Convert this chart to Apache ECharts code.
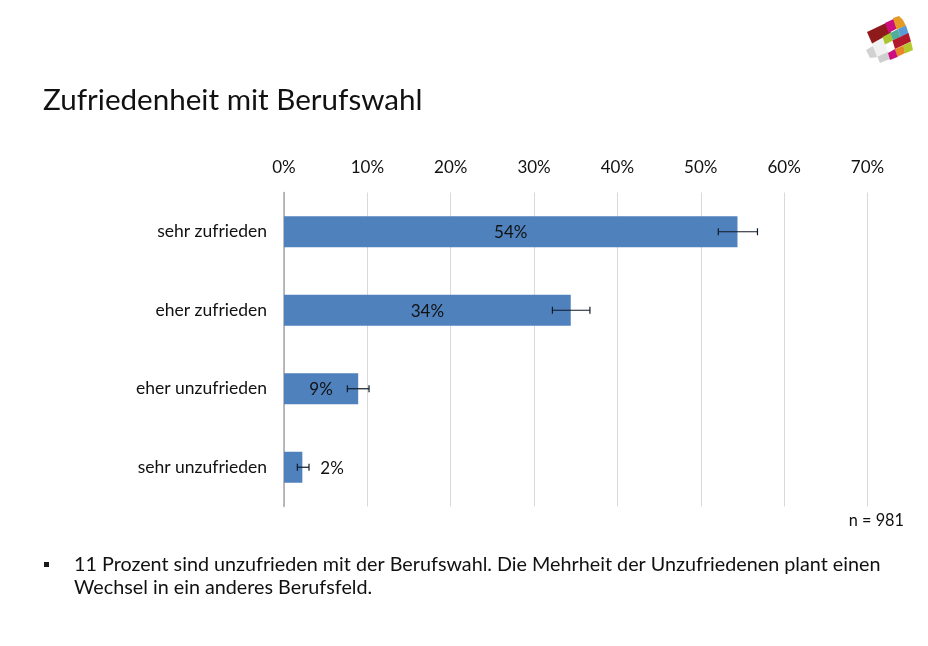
<!DOCTYPE html>
<html>
<head>
<meta charset="utf-8">
<title>Zufriedenheit mit Berufswahl</title>
<script src="https://cdn.jsdelivr.net/npm/echarts@6/dist/echarts.min.js"></script>
<style>
  html, body { margin: 0; padding: 0; background: #fff; }
  #main { width: 928px; height: 646px; }
</style>
</head>
<body>
<div id="main"></div>
<script>
// Werte
const categories = ["sehr zufrieden", "eher zufrieden", "eher unzufrieden", "sehr unzufrieden"];
const shareValues = [54.4, 34.4, 8.9, 2.2];
const errorLow = [52.1, 32.2, 7.6, 1.6];
const errorHigh = [56.8, 36.7, 10.2, 3.0];

const fontName = "Lato, 'Open Sans', sans-serif";
const textColor = "#111111";

// Logo oben rechts, [Farbe, Punkte]
const logoParts = [
  ["#d2d2d2", [[866, 50], [873, 46], [878, 57], [870, 58]]],
  ["#cfcfcf", [[877, 56], [888, 51], [890, 59], [880, 63]]],
  ["#f1f1f1", [[872, 43], [883, 37], [888, 52], [877, 57]]],
  ["#8e1a1c", [[867, 32], [887, 22.5], [891, 33], [872, 43.5]]],
  ["#cc0e7e", [[885, 23], [893.5, 19], [897, 28.5], [888.5, 33]]],
  ["#e59a25", [[893, 18], [899, 16], [903, 20], [906, 26], [896.5, 29.5]]],
  ["#a9c52f", [[882.5, 37], [891, 32.5], [893, 40.5], [885, 44.5]]],
  ["#4fae9c", [[890.5, 33], [898, 29], [900.5, 37], [893, 40.5]]],
  ["#5b9bd5", [[898, 29], [906, 25.5], [908.5, 33.5], [900.5, 37]]],
  ["#b2182b", [[892.5, 40.5], [908.5, 33], [911, 41.5], [895, 49]]],
  ["#e8872a", [[895, 49], [903.5, 45.5], [905, 53], [897, 57]]],
  ["#b4c82d", [[903, 45.5], [911, 41.5], [913, 50], [905, 53.5]]],
  ["#cc0e7e", [[888, 53], [895, 49], [897.5, 57], [890, 60]]]
];

const chart = echarts.init(document.getElementById("main"));

const logoGraphics = logoParts.map(function (part) {
  return {
    type: "polygon",
    shape: { points: part[1] },
    style: { fill: part[0] }
  };
});

chart.setOption({
  backgroundColor: "#fff",
  animation: false,
  title: {
    text: "Zufriedenheit mit Berufswahl",
    left: 43,
    top: 85,
    padding: 0,
    textStyle: { fontFamily: fontName, fontSize: 29.6, fontWeight: "normal", color: textColor }
  },
  grid: { left: 284, top: 192.5, width: 583.5, height: 314, containLabel: false },
  xAxis: {
    type: "value",
    position: "top",
    min: 0,
    max: 70,
    interval: 10,
    axisLine: { show: false },
    axisTick: { show: false },
    axisLabel: {
      formatter: "{value}%",
      margin: 16,
      fontFamily: fontName,
      fontSize: 17,
      color: textColor
    },
    splitLine: { lineStyle: { color: "#d9d9d9", width: 1 } }
  },
  yAxis: {
    type: "category",
    inverse: true,
    data: categories,
    axisLine: { lineStyle: { color: "#a6a6a6", width: 1.5 } },
    axisTick: { show: false },
    axisLabel: {
      margin: 17,
      padding: [2, 0, 0, 0],
      fontFamily: fontName,
      fontSize: 17.5,
      color: textColor
    }
  },
  series: [
    {
      type: "bar",
      barWidth: 31,
      itemStyle: { color: "#4f81bd" },
      data: shareValues.map(function (v) {
        return {
          value: v,
          label: {
            show: true,
            position: v < 5 ? "right" : "inside",
            distance: 18,
            offset: [0, 1],
            formatter: Math.round(v) + "%",
            fontFamily: fontName,
            fontSize: 17,
            color: textColor
          }
        };
      }),
      z: 2
    },
    {
      type: "custom",
      data: categories.map(function (c, i) {
        return [errorLow[i], errorHigh[i], i];
      }),
      encode: { x: [0, 1], y: 2 },
      z: 5,
      silent: true,
      renderItem: function (params, api) {
        const low = api.coord([api.value(0), api.value(2)]);
        const high = api.coord([api.value(1), api.value(2)]);
        const lineStyle = { stroke: "#111a28", lineWidth: 1.2 };
        const cap = 3.5;
        return {
          type: "group",
          children: [
            { type: "line", shape: { x1: low[0], y1: low[1], x2: high[0], y2: high[1] }, style: lineStyle },
            { type: "line", shape: { x1: low[0], y1: low[1] - cap, x2: low[0], y2: low[1] + cap }, style: lineStyle },
            { type: "line", shape: { x1: high[0], y1: high[1] - cap, x2: high[0], y2: high[1] + cap }, style: lineStyle }
          ]
        };
      }
    }
  ],
  graphic: logoGraphics.concat([
    {
      type: "text",
      right: 24,
      top: 513,
      style: { text: "n = 981", font: "16.3px " + fontName, fill: textColor }
    },
    {
      type: "rect",
      shape: { x: 44, y: 562, width: 5, height: 5 },
      style: { fill: "#1a1a1a" }
    },
    {
      type: "text",
      left: 74,
      top: 552.5,
      style: {
        text: "11 Prozent sind unzufrieden mit der Berufswahl. Die Mehrheit der Unzufriedenen plant einen\nWechsel in ein anderes Berufsfeld.",
        font: "19.75px " + fontName,
        lineHeight: 23.5,
        fill: textColor
      }
    }
  ])
});
</script>
</body>
</html>
